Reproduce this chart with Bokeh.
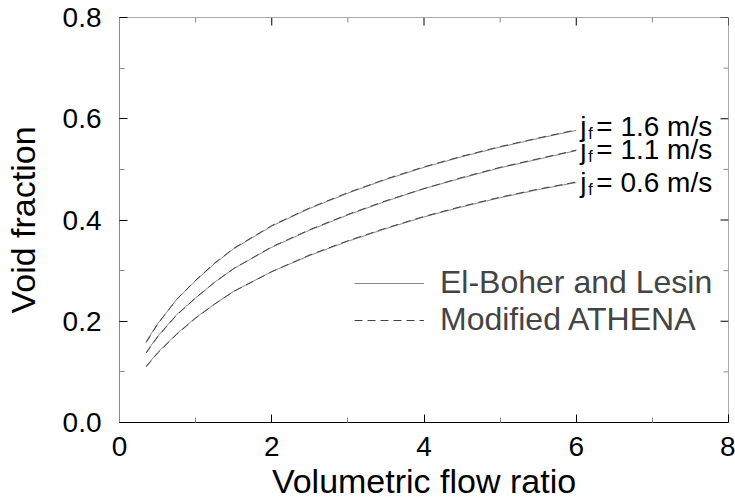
import math
from bokeh.plotting import figure
from bokeh.models import (Range1d, FixedTicker, NumeralTickFormatter,
                          Legend, LegendItem, ColumnDataSource)
from bokeh.core.properties import value
from bokeh.embed import file_html
from bokeh.resources import INLINE

# ---- data ----
flow_ratio = [0.35, 0.5, 0.75, 1.0, 1.25, 1.5, 2.0, 2.5, 3.0, 3.5, 4.0, 4.5, 5.0, 5.5, 6.0]

eb_jf16 = [0.160, 0.195, 0.243, 0.280, 0.314, 0.343, 0.388, 0.423, 0.453, 0.480, 0.504, 0.525, 0.544, 0.561, 0.577]
eb_jf11 = [0.139, 0.170, 0.213, 0.246, 0.277, 0.304, 0.346, 0.380, 0.410, 0.437, 0.462, 0.483, 0.503, 0.520, 0.537]
eb_jf06 = [0.111, 0.138, 0.175, 0.207, 0.234, 0.259, 0.298, 0.330, 0.358, 0.383, 0.406, 0.426, 0.444, 0.460, 0.474]

at_jf16 = [0.158, 0.194, 0.243, 0.281, 0.315, 0.344, 0.389, 0.424, 0.454, 0.481, 0.505, 0.526, 0.545, 0.562, 0.578]
at_jf11 = [0.137, 0.169, 0.212, 0.246, 0.277, 0.304, 0.347, 0.381, 0.411, 0.438, 0.462, 0.484, 0.504, 0.521, 0.538]
at_jf06 = [0.110, 0.137, 0.174, 0.206, 0.234, 0.259, 0.298, 0.331, 0.359, 0.384, 0.407, 0.427, 0.445, 0.461, 0.475]

series_labels = ["1.6", "1.1", "0.6"]
label_y = [0.584, 0.539, 0.474]

x_major = [0, 2, 4, 6, 8]
x_minor = [1, 3, 5, 7]
y_major = [0.0, 0.2, 0.4, 0.6, 0.8]
y_minor = [0.1, 0.3, 0.5, 0.7]

FONT = "Liberation Sans"
FS = "28px"
TITLE_FS = "34px"
LEG_FS = "32px"

p = figure(width=735, height=502, output_backend="svg", toolbar_location=None,
           x_range=Range1d(0, 8), y_range=Range1d(0, 0.8),
           min_border_left=117, min_border_right=7, min_border_top=17, min_border_bottom=70,
           x_axis_label="Volumetric flow ratio", y_axis_label="Void fraction")
p.grid.visible = False
p.outline_line_color = "#aaaaaa"
p.background_fill_color = "white"
p.border_fill_color = "white"

def style_axis(ax, ticks, minor, fmt, line_color):
    ax.ticker = FixedTicker(ticks=ticks, minor_ticks=minor)
    ax.formatter = NumeralTickFormatter(format=fmt)
    ax.major_tick_in = 8
    ax.major_tick_out = 0
    ax.minor_tick_in = 5
    ax.minor_tick_out = 0
    ax.axis_line_color = line_color
    ax.major_tick_line_color = "black"
    ax.minor_tick_line_color = "#888888"
    ax.major_label_text_font = FONT
    ax.major_label_text_font_size = FS
    ax.major_label_text_color = "black"
    ax.axis_label_text_font = FONT
    ax.axis_label_text_font_size = TITLE_FS
    ax.axis_label_text_font_style = "normal"
    ax.axis_label_text_color = "black"

style_axis(p.xaxis[0], x_major, x_minor, "0", "black")
p.xaxis[0].major_label_standoff = 14
p.xaxis[0].axis_label_standoff = 3
style_axis(p.yaxis[0], y_major, y_minor, "0.0", "#888888")
p.yaxis[0].major_label_standoff = 18
p.yaxis[0].axis_label_standoff = 18

# mirrored inward ticks on top and right edges
p.ray(x=x_major, y=[0.8] * len(x_major), length=8, length_units="screen",
      angle=-math.pi / 2, line_color="black", line_width=1)
p.ray(x=x_minor, y=[0.8] * len(x_minor), length=5, length_units="screen",
      angle=-math.pi / 2, line_color="#888888", line_width=1)
p.ray(x=[8] * len(y_major), y=y_major, length=8, length_units="screen",
      angle=math.pi, line_color="black", line_width=1)
p.ray(x=[8] * len(y_minor), y=y_minor, length=5, length_units="screen",
      angle=math.pi, line_color="#888888", line_width=1)

solid_r = []
dash_r = []
for eb, at in zip([eb_jf16, eb_jf11, eb_jf06], [at_jf16, at_jf11, at_jf06]):
    solid_r.append(p.line(flow_ratio, eb, line_color="#888888", line_width=1))
    dash_r.append(p.line(flow_ratio, at, line_color="#444444", line_width=1, line_dash="8 5"))

legend = Legend(items=[LegendItem(label="El-Boher and Lesin", renderers=[solid_r[0]]),
                       LegendItem(label="Modified ATHENA", renderers=[dash_r[0]])],
                location=(235, 84), glyph_width=70, glyph_height=30, label_height=30,
                label_standoff=16, spacing=0, padding=0, margin=0,
                border_line_color=None, background_fill_alpha=0,
                label_text_font=FONT, label_text_font_size=LEG_FS)
p.add_layout(legend, "center")

# annotations j_f = ... m/s
src = ColumnDataSource(dict(x=[flow_ratio[-1]] * 3, y=label_y,
                            rest=["= %s m/s" % s for s in series_labels],
                            j=["j"] * 3, f=["f"] * 3))
p.text(x="x", y="y", text="j", source=src, x_offset=4, text_font=value(FONT),
       text_font_size=FS, text_baseline="middle", text_align="left", text_color="black")
p.text(x="x", y="y", text="f", source=src, x_offset=12, y_offset=7, text_font=value(FONT),
       text_font_size="16px", text_baseline="middle", text_align="left", text_color="black")
p.text(x="x", y="y", text="rest", source=src, x_offset=20, text_font=value(FONT),
       text_font_size=FS, text_baseline="middle", text_align="left", text_color="black")

open("out.html", "w").write(file_html(p, INLINE))
